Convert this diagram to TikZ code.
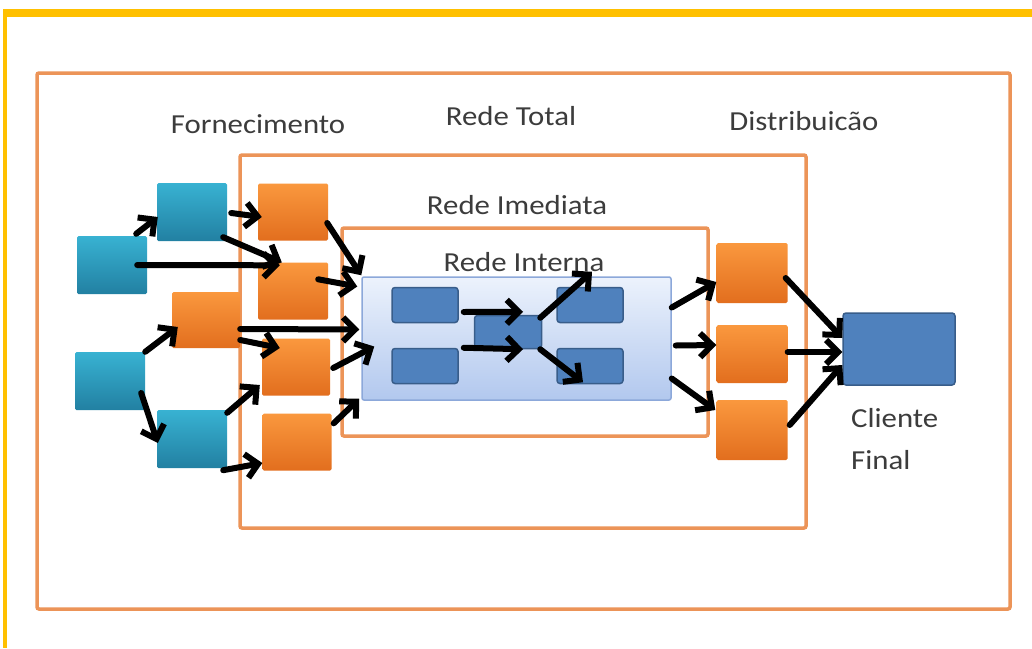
\documentclass[tikz,border=0pt]{standalone}
\usepackage{fontspec}
\setmainfont[FakeStretch=1.12]{Carlito}
\usetikzlibrary{arrows.meta,calc}

\definecolor{frameorange}{RGB}{236,148,88}
\definecolor{goldbar}{RGB}{255,192,0}
\definecolor{tealtop}{RGB}{56,178,210}
\definecolor{tealbot}{RGB}{34,128,162}
\definecolor{orangetop}{RGB}{250,152,62}
\definecolor{orangebot}{RGB}{226,110,30}
\definecolor{steelblue}{RGB}{79,129,189}
\definecolor{steeledge}{RGB}{56,93,138}
\definecolor{paleblue}{RGB}{236,242,252}
\definecolor{softblue}{RGB}{178,200,238}
\definecolor{paleedge}{RGB}{140,168,218}
\definecolor{labelgrey}{RGB}{60,60,60}

\tikzset{
  frame/.style={draw=frameorange, line width=3.5pt, rounded corners=2pt},
  tealbox/.style={minimum width=70pt, minimum height=58pt, inner sep=0pt,
    top color=tealtop, bottom color=tealbot, rounded corners=1.5pt},
  orangebox/.style={minimum width=70pt, minimum height=57pt, inner sep=0pt,
    top color=orangetop, bottom color=orangebot, rounded corners=1.5pt},
  bluebox/.style={minimum width=66pt, minimum height=35pt, inner sep=0pt,
    fill=steelblue, draw=steeledge, line width=1.5pt, rounded corners=3pt},
  label/.style={text=labelgrey, font=\fontsize{27.5}{32}\selectfont, inner sep=0pt},
  arr/.style={draw=black, line width=6pt, line cap=round,
    -{Straight Barb[length=12pt, width=24pt, line width=6pt]}},
}

\begin{document}
\begin{tikzpicture}[x=1pt, y=-1pt]
\useasboundingbox (0,0) rectangle (1032,648);
\fill[white] (0,0) rectangle (1032,648);

% gold border along the top and left edges
\fill[goldbar] (3,9) rectangle (1032,17);
\fill[goldbar] (3,9) rectangle (7,648);

% nested network frames
\draw[frame] (37,73) rectangle (1010,609);
\draw[frame] (240,155) rectangle (806,528);
\draw[frame] (342,228) rectangle (708,436);

% frame titles
\node[label] (tForn) at (258,124) {Fornecimento};
\node[label] (tTotal) at (511,116) {Rede Total};
\node[label] (tDist) at (804,121) {Distribuicão};
\node[label] (tImed) at (517,205) {Rede Imediata};
\node[label] (tInt) at (524,262) {Rede Interna};

% internal network panel
\node[minimum width=309pt, minimum height=123pt, inner sep=0pt,
  top color=paleblue, bottom color=softblue, draw=paleedge, line width=1.5pt,
  rounded corners=2pt] (Int) at (516.5,338.5) {};

% supply side boxes
\node[tealbox] (T1) at (192,212) {};
\node[tealbox] (T2) at (112,265) {};
\node[tealbox] (T3) at (110,381) {};
\node[tealbox] (T4) at (192,439) {};
\node[orangebox] (O1) at (293,212) {};
\node[orangebox] (O2) at (293,291) {};
\node[orangebox, minimum width=68pt, minimum height=56pt] (O3) at (206,320) {};
\node[orangebox, minimum width=68pt] (O4) at (296,367) {};
\node[orangebox, minimum width=69pt] (O5) at (297,442) {};

% internal units
\node[bluebox] (B1) at (425,305) {};
\node[bluebox] (B2) at (425,366) {};
\node[bluebox, minimum width=67pt, minimum height=33pt] (C) at (508,332) {};
\node[bluebox] (B3) at (590,305) {};
\node[bluebox] (B4) at (590,366) {};

% distribution side boxes
\node[orangebox, minimum width=71pt, minimum height=60pt] (R1) at (752,273) {};
\node[orangebox, minimum width=71pt, minimum height=58pt] (R2) at (752,354) {};
\node[orangebox, minimum width=71pt, minimum height=60pt] (R3) at (752,430) {};

% final customer
\node[minimum width=112pt, minimum height=72pt, inner sep=0pt, fill=steelblue,
  draw=steeledge, line width=1.5pt, rounded corners=3pt] (Client) at (899,349) {};
\node[label, anchor=west] (tCli) at (851,418) {Cliente};
\node[label, anchor=west] (tFin) at (851,460) {Final};

% supply flows
\draw[arr] ($(T2.north east)+(-11,-2)$) -- ($(T1.west)+(1,5)$);
\draw[arr] ($(T1.east)+(4,1)$) -- ($(O1.west)+(4,5)$);
\draw[arr] ($(T1.south east)+(-4,-4)$) -- ($(O2.north west)+(24,0)$);
\draw[arr] ($(T2.east)+(-10,0)$) -- ($(O2.north west)+(22,3)$);
\draw[arr] ($(O1.east)+(-1,11)$) -- ($(Int.north west)+(0,-1)$);
\draw[arr] ($(O2.north east)+(-10,17)$) -- ($(Int.west)+(-4,-52)$);
\draw[arr] ($(O3.east)+(0,9)$) -- ($(Int.west)+(-2,-9)$);
\draw[arr] ($(O3.east)+(0,20)$) -- ($(O4.west)+(18,-19)$);
\draw[arr] (T3.north east) -- ($(O3.west)+(6,7)$);
\draw[arr] ($(T3.east)+(-4,12)$) -- ($(T4.west)+(1,4)$);
\draw[arr] ($(O4.east)+(3,1)$) -- ($(Int.west)+(13,8)$);
\draw[arr] ($(T4.south east)+(-4,2)$) -- ($(O5.west)+(0,21)$);
\draw[arr] ($(T4.north east)+(0,3)$) -- ($(O4.west)+(-2,18)$);
\draw[arr] ($(O5.north east)+(2,10)$) -- ($(Int.south west)+(-2,-2)$);

% flows inside the internal network
\draw[arr] ($(B1.east)+(5,7)$) -- ($(C.north)+(15,-3)$);
\draw[arr] ($(B2.north east)+(5,0)$) -- ($(C.south)+(15,0)$);
\draw[arr] ($(C.north east)+(-2,3)$) -- ($(B3.north)+(2,-15)$);
\draw[arr] ($(C.south east)+(-2,0)$) -- ($(B4.south)+(-7,-2)$);

% distribution flows
\draw[arr] ($(Int.east)+(0,-31)$) -- ($(R1.west)+(0,9)$);
\draw[arr] ($(Int.east)+(4,7)$) -- ($(R2.west)+(0,-9)$);
\draw[arr] ($(Int.east)+(0,40)$) -- ($(R3.west)+(-1,-20)$);
\draw[arr] ($(R1.east)+(-2,5)$) -- ($(Client.west)+(0,-11)$);
\draw[arr] ($(R2.east)+(0,-2)$) -- ($(Client.west)+(0,3)$);
\draw[arr] ($(R3.east)+(2,-5)$) -- ($(Client.west)+(0,16)$);
\end{tikzpicture}
\end{document}
